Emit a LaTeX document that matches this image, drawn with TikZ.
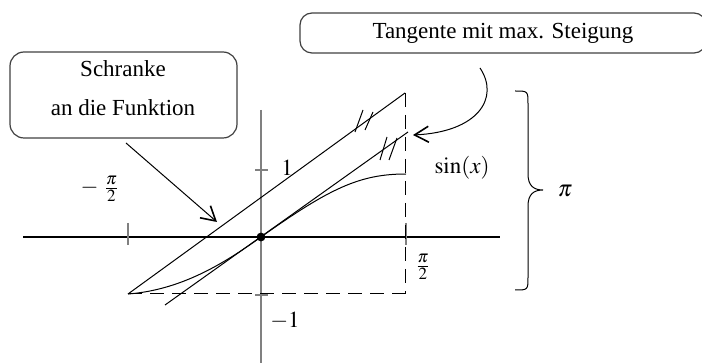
\documentclass[tikz,border=0pt]{standalone}
\usepackage{mathptmx}
\usepackage{fontspec}
\setmainfont{Liberation Serif}
\usetikzlibrary{arrows.meta}
\tikzset{
  px/.style={x=0.5pt,y=-0.5pt},
  lbl/.style={font=\fontsize{11.5}{14}\selectfont, inner sep=0pt},
  thin line/.style={line width=0.5pt},
  boxstyle/.style={draw=black!75, line width=0.6pt, rounded corners=7pt},
  barb/.style={-{Straight Barb[length=7pt,width=8pt,line width=0.8pt]}},
  hatch/.style={line width=0.5pt},
}
\begin{document}
\begin{tikzpicture}[px]
\useasboundingbox (0,0) rectangle (702,363);
% axes
\draw[line width=0.7pt] (23,237) -- (500,237);
\draw[line width=0.6pt, gray] (261,110) -- (261,363);
% ticks
\draw[line width=0.6pt, gray] (128,223) -- (128,245);
\draw[line width=0.6pt, gray] (406,223) -- (406,245);
\draw[line width=0.6pt, gray] (255,170) -- (268,170);
\draw[line width=0.6pt, gray] (255,295) -- (268,295);
% coordinates
\coordinate (A) at (128,294);
\coordinate (B) at (405,93);
\coordinate (C) at (405,294);
\coordinate (O) at (261,237);
\coordinate (S) at (406,174);
\coordinate (T1) at (165,305);
\coordinate (T2) at (408,132);
% dashed lines
\draw[thin line, dash pattern=on 7pt off 4pt] (A) -- (C);
\draw[thin line, dash pattern=on 7pt off 4pt] (B) -- (C);
% bound line
\draw[thin line] (A) -- (B);
% tangent
\draw[thin line] (T1) -- (T2);
% sine curve
\draw[thin line] (A) .. controls (180,290) and (222,265) .. (O)
  .. controls (330,188) and (360,174) .. (S);
% origin dot
\fill (O) circle (2.2pt);
% hatches
\draw[hatch] (355,132) -- (363,110);
\draw[hatch] (365,130) -- (373,112);
\draw[hatch] (380,160) -- (387,137);
\draw[hatch] (389,160) -- (397,138);
% labels
\node[lbl] (lone) at (287,168) {$1$};
\node[lbl] (lmone) at (285,321) {$-1$};
\node[lbl] (lmpi) at (100,189) {$-\;\frac{\pi}{2}$};
\node[lbl] (lpi) at (423,267) {$\frac{\pi}{2}$};
\node[lbl] (lsin) at (462,168) {$\sin(x)$};
\node[lbl] (lbigpi) at (565,191) {$\pi$};
% brace
\draw[thin line] (515,91) .. controls (528,91) .. (528,104) -- (528,174)
  .. controls (528,186) and (534,190) .. (543,190)
  .. controls (534,190) and (528,194) .. (528,206) -- (528,277)
  .. controls (528,290) .. (515,290);
% Schranke box
\node[boxstyle, minimum width=113.5pt, minimum height=43pt, inner sep=0pt] (schranke) at (123.5,95) {};
\node[lbl] (s1) at (123,69) {Schranke};
\node[lbl] (s2) at (123,108) {an die Funktion};
\coordinate (sa) at (126,143);
\coordinate (sb) at (217,222);
\draw[thin line, barb] (sa) -- (sb);
% Tangente box
\node[boxstyle, rounded corners=6pt, minimum width=203pt, minimum height=20pt, inner sep=0pt, lbl] (tang) at (503,33) {Tangente mit max. Steigung};
\coordinate (ta) at (480,68);
\coordinate (tb) at (413,135);
\draw[thin line, barb] (ta) .. controls (500,98) and (478,132) .. (tb);
\end{tikzpicture}
\end{document}
